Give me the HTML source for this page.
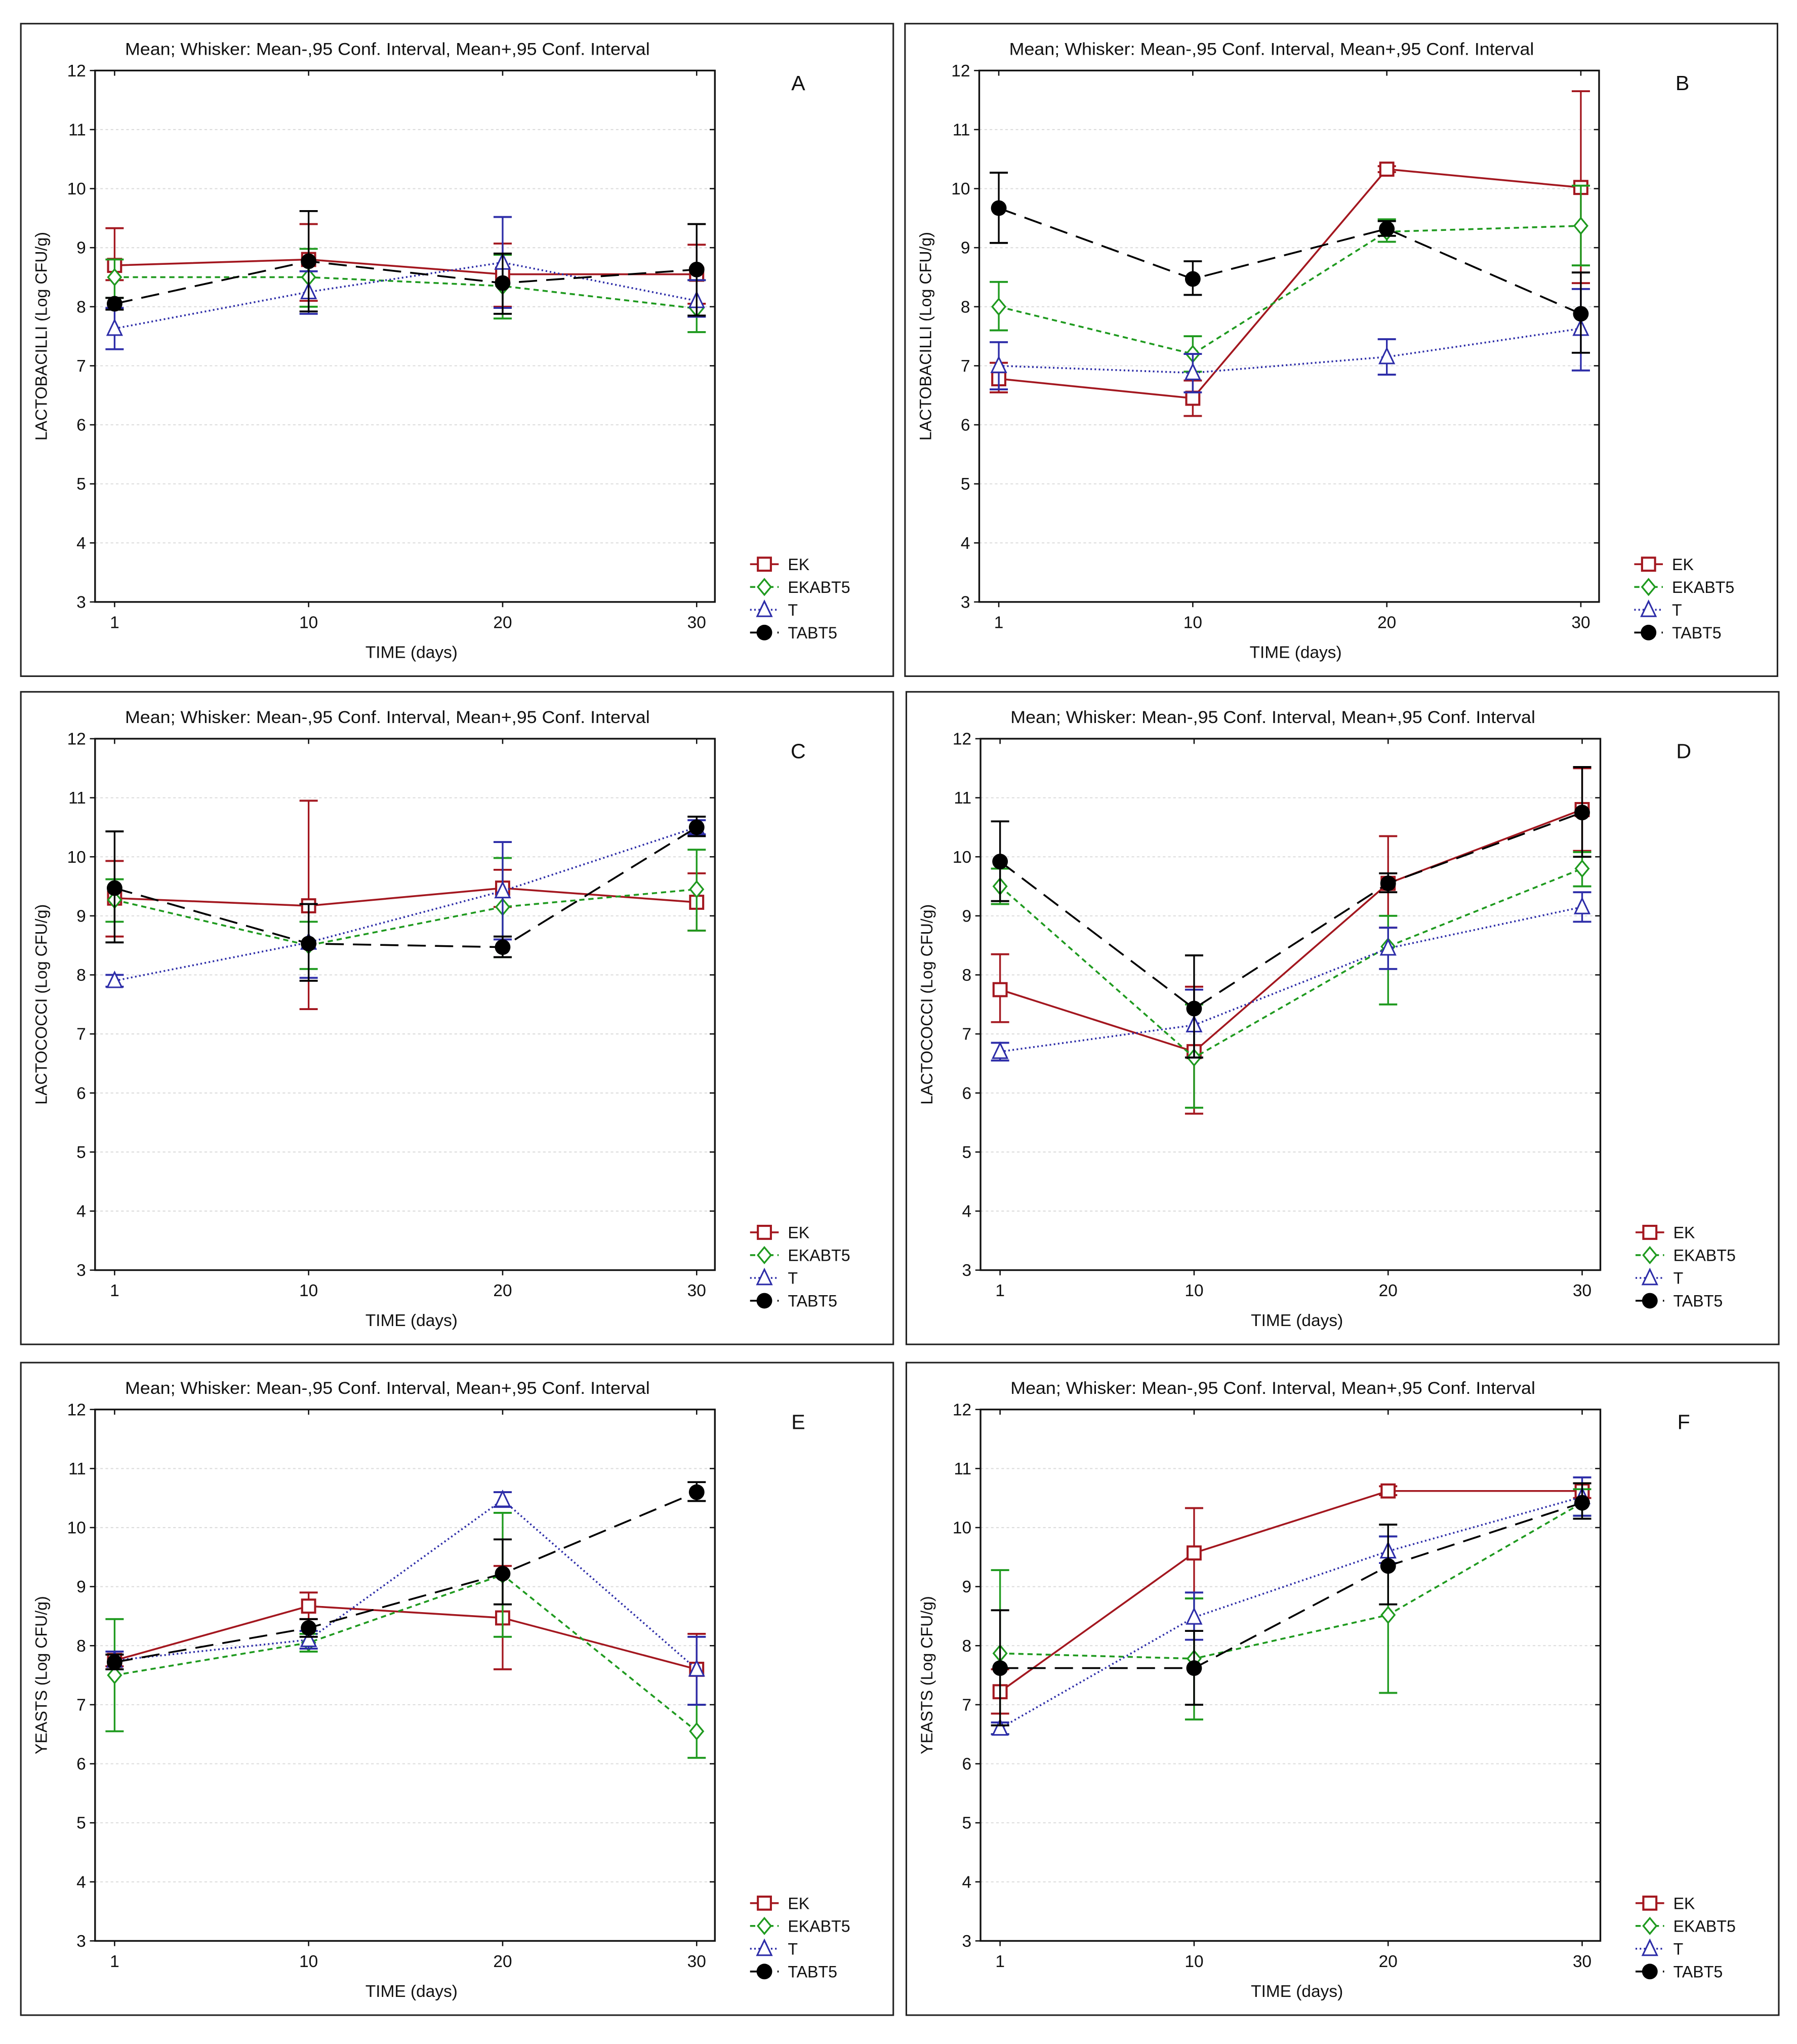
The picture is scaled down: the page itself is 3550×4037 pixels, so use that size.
<!DOCTYPE html>
<html><head><meta charset="utf-8"><style>
html,body{margin:0;padding:0;background:#fff;}
svg{display:block;}
text{font-family:"Liberation Sans",Arial,sans-serif;fill:#111;}
</style></head><body>
<svg id="fig" xmlns="http://www.w3.org/2000/svg" width="3550" height="4037" viewBox="0 0 1380 1569"></svg>
<script>
// ---- data ----
const categories = [1, 10, 20, 30];
const yTicks = [3,4,5,6,7,8,9,10,11,12];
const panelLetters = ["A","B","C","D","E","F"];
const yTitles = ["LACTOBACILLI (Log CFU/g)","LACTOBACILLI (Log CFU/g)","LACTOCOCCI (Log CFU/g)","LACTOCOCCI (Log CFU/g)","YEASTS (Log CFU/g)","YEASTS (Log CFU/g)"];
const seriesNames = ["EK","EKABT5","T","TABT5"];

const meanEK = [[8.7,8.8,8.55,8.55],[6.78,6.45,10.33,10.02],[9.3,9.17,9.47,9.23],[7.75,6.7,9.55,10.8],[7.75,8.67,8.47,7.6],[7.22,9.57,10.62,10.62]];
const loEK   = [[8.45,8.1,8.0,8.05],[6.55,6.15,10.28,8.4],[8.65,7.42,9.15,8.75],[7.2,5.65,8.8,10.1],[7.65,8.45,7.6,7.0],[6.85,8.8,10.55,10.5]];
const hiEK   = [[9.33,9.4,9.07,9.05],[7.05,6.75,10.38,11.65],[9.93,10.95,9.78,9.72],[8.35,7.8,10.35,11.5],[7.85,8.9,9.35,8.2],[7.6,10.33,10.7,10.75]];

const meanEKABT5 = [[8.5,8.5,8.35,7.97],[8.0,7.2,9.27,9.37],[9.27,8.5,9.15,9.45],[9.5,6.6,8.48,9.8],[7.5,8.05,9.2,6.55],[7.87,7.78,8.52,10.42]];
const loEKABT5   = [[8.15,8.0,7.8,7.57],[7.6,6.9,9.1,8.7],[8.9,8.1,8.3,8.75],[9.2,5.75,7.5,9.5],[6.55,7.9,8.15,6.1],[6.5,6.75,7.2,10.2]];
const hiEKABT5   = [[8.8,8.98,8.88,8.45],[8.42,7.5,9.48,10.05],[9.62,8.9,9.98,10.12],[9.8,7.5,9.0,10.08],[8.45,8.2,10.25,7.0],[9.28,8.8,9.85,10.65]];

const meanT = [[7.63,8.25,8.75,8.1],[7.0,6.88,7.15,7.63],[7.9,8.55,9.42,10.5],[6.7,7.15,8.45,9.15],[7.75,8.1,10.47,7.6],[6.6,8.48,9.6,10.52]];
const loT   = [[7.28,7.88,7.98,7.83],[6.6,6.55,6.85,6.92],[7.8,7.95,8.6,10.38],[6.55,6.6,8.1,8.9],[7.6,7.95,10.35,7.0],[6.5,8.1,9.4,10.2]];
const hiT   = [[7.98,8.6,9.52,8.45],[7.4,7.2,7.45,8.3],[8.0,9.2,10.25,10.62],[6.85,7.75,8.8,9.4],[7.9,8.25,10.6,8.15],[6.7,8.9,9.85,10.85]];

const meanTABT5 = [[8.05,8.77,8.4,8.63],[9.67,8.47,9.32,7.88],[9.47,8.53,8.47,10.5],[9.92,7.43,9.55,10.75],[7.72,8.3,9.22,10.6],[7.62,7.62,9.35,10.42]];
const loTABT5   = [[7.95,7.92,7.88,7.85],[9.08,8.2,9.2,7.22],[8.55,7.9,8.3,10.35],[9.25,6.6,9.4,10.0],[7.6,8.15,8.7,10.45],[6.65,7.0,8.7,10.15]];
const hiTABT5   = [[8.15,9.62,8.9,9.4],[10.27,8.77,9.45,8.58],[10.43,9.2,8.65,10.68],[10.6,8.33,9.72,11.52],[7.85,8.45,9.8,10.77],[8.6,8.25,10.05,10.75]];

const NS = "http://www.w3.org/2000/svg";
const svg = document.getElementById("fig");
function mk(tag, attrs, parent){
  const e = document.createElementNS(NS, tag);
  for (const k in attrs) e.setAttribute(k, attrs[k]);
  (parent||svg).appendChild(e);
  return e;
}
const boxes = [[16,18],[695,18],[16,531],[696,531],[16,1046],[696,1046]];
const styles = [
  {color:"#a3171f", dash:"", marker:"square"},
  {color:"#1f9a1f", dash:"4,3", marker:"diamond"},
  {color:"#2d2da8", dash:"1.2,2", marker:"triangle"},
  {color:"#000000", dash:"14,7", marker:"circle"}
];
const means=[meanEK,meanEKABT5,meanT,meanTABT5], los=[loEK,loEKABT5,loT,loTABT5], his=[hiEK,hiEKABT5,hiT,hiTABT5];

function drawMarker(g, type, x, y, color){
  let m;
  if(type==="square") m = mk("rect",{x:x-5,y:y-5,width:10,height:10,fill:"#fff",stroke:color,"stroke-width":1.6},g);
  else if(type==="diamond") m = mk("polygon",{points:`${x},${y-6} ${x+5},${y} ${x},${y+6} ${x-5},${y}`,fill:"#fff",stroke:color,"stroke-width":1.3},g);
  else if(type==="triangle") m = mk("polygon",{points:`${x},${y-6.5} ${x+5.5},${y+5} ${x-5.5},${y+5}`,fill:"#fff",stroke:color,"stroke-width":1.2},g);
  else m = mk("circle",{cx:x,cy:y,r:6,fill:color},g);
  return m;
}

for(let p=0;p<6;p++){
  const [bx,by] = boxes[p];
  const g = mk("g",{});
  
  
  const frame = mk("rect",{x:bx,y:by,width:670,height:501,fill:"none",stroke:"#222","stroke-width":1.2},g);
  
  
  const L=bx+57, R=bx+533, T=by+36, B=by+444;
  const xs = i => L + 15 + i*(R-L-29)/3;
  const ys = v => B - (v-3)*(B-T)/9;
  yTicks.forEach(t=>{
    if(t>3 && t<12){
      const gl = mk("line",{x1:L,x2:R,y1:ys(t),y2:ys(t),stroke:"#dcdcdc","stroke-width":0.8,"stroke-dasharray":"2,2"},g);
      
      
    }
    mk("line",{x1:L,x2:L-4,y1:ys(t),y2:ys(t),stroke:"#111","stroke-width":1},g);
    mk("line",{x1:R,x2:R-4,y1:ys(t),y2:ys(t),stroke:"#111","stroke-width":1},g);
    const tl = mk("text",{x:L-7,y:ys(t)+4.5,"text-anchor":"end","font-size":13},g);
    tl.textContent = t;
    
    
  });
  categories.forEach((c,i)=>{
    mk("line",{x1:xs(i),x2:xs(i),y1:B,y2:B+4,stroke:"#111","stroke-width":1},g);
    mk("line",{x1:xs(i),x2:xs(i),y1:T,y2:T+4,stroke:"#111","stroke-width":1},g);
    const tl = mk("text",{x:xs(i),y:B+20,"text-anchor":"middle","font-size":13},g);
    tl.textContent = c;
    
    
  });
  const ax = mk("rect",{x:L,y:T,width:R-L,height:B-T,fill:"none",stroke:"#111","stroke-width":1.3},g);
  
  
  const ttl = mk("text",{x:bx+80,y:by+24,"font-size":13.5,textLength:403,lengthAdjust:"spacingAndGlyphs"},g);
  ttl.textContent = "Mean;  Whisker: Mean-,95 Conf. Interval, Mean+,95 Conf. Interval";
  
  
  const xt = mk("text",{x:bx+300,y:by+487,"text-anchor":"middle","font-size":13},g);
  xt.textContent = "TIME (days)";
  
  
  const yt = mk("text",{x:0,y:0,"text-anchor":"middle","font-size":12.5,transform:`translate(${bx+20},${(T+B)/2}) rotate(-90)`},g);
  yt.textContent = yTitles[p];
  
  
  const pl = mk("text",{x:bx+597,y:by+51,"text-anchor":"middle","font-size":16},g);
  pl.textContent = panelLetters[p];
  
  

  for(let s=0;s<4;s++){
    const st = styles[s];
    const sg = mk("g",{},g);
    
    
    categories.forEach((c,i)=>{
      const x = xs(i), y1 = ys(los[s][p][i]), y2 = ys(his[s][p][i]);
      const w = mk("line",{x1:x,x2:x,y1:y1,y2:y2,stroke:st.color,"stroke-width":1.3},sg);
      
      
      mk("line",{x1:x-7,x2:x+7,y1:y1,y2:y1,stroke:st.color,"stroke-width":1.5},sg);
      mk("line",{x1:x-7,x2:x+7,y1:y2,y2:y2,stroke:st.color,"stroke-width":1.5},sg);
    });
    const pts = categories.map((c,i)=>`${xs(i)},${ys(means[s][p][i])}`).join(" ");
    const ln = mk("polyline",{points:pts,fill:"none",stroke:st.color,"stroke-width":1.4,"stroke-dasharray":st.dash},sg);
    
    
    categories.forEach((c,i)=>{
      const m = drawMarker(sg, st.marker, xs(i), ys(means[s][p][i]), st.color);
      
      
    });
    const ly = by + 415 + s*17.5;
    const lg = mk("g",{},g);
    
    
    mk("line",{x1:bx+560,x2:bx+582,y1:ly,y2:ly,stroke:st.color,"stroke-width":1.4,"stroke-dasharray":st.dash},lg);
    drawMarker(lg, st.marker, bx+571, ly, st.color);
    const lt = mk("text",{x:bx+589,y:ly+4.5,"font-size":12.5},lg);
    lt.textContent = seriesNames[s];
  }
}
</script>
</body></html>
